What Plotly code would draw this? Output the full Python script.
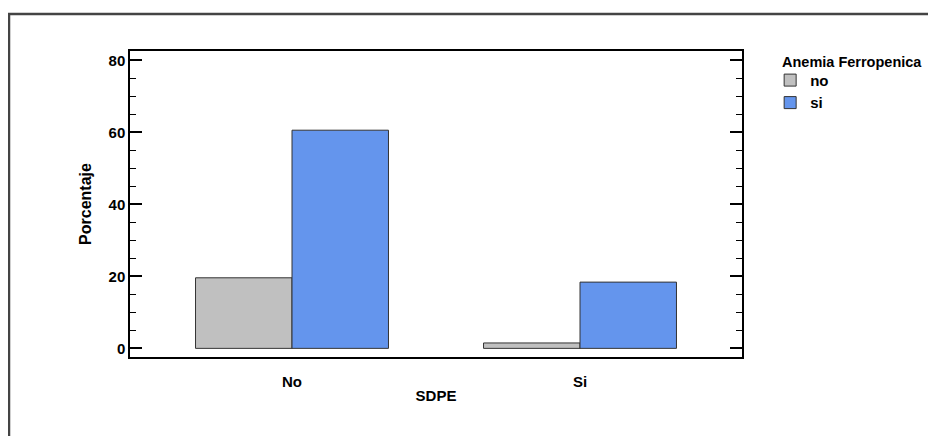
import plotly.graph_objects as go

categories = ["No", "Si"]
series_names = ["no", "si"]
values_no = [19.6, 1.5]
values_si = [60.6, 18.4]
colors = ["#C0C0C0", "#6495ED"]
legend_title = "Anemia Ferropenica"

FONT = "Liberation Sans, Arial, sans-serif"

fig = go.Figure()
for name, vals, col in zip(series_names, [values_no, values_si], colors):
    fig.add_trace(go.Bar(
        x=categories, y=vals, name=name,
        marker=dict(color=col, line=dict(color="#333333", width=1)),
    ))

# page has an 8px body margin; figure is sized to fit the window
fig.update_layout(
    width=928, height=428,
    margin=dict(l=122, r=194, t=43, b=79),
    paper_bgcolor="white", plot_bgcolor="white",
    barmode="group", bargap=0.33, bargroupgap=0,
    font=dict(family=FONT, size=15, color="black", weight="bold"),
    legend=dict(
        x=1.046, y=0.958, xanchor="left", yanchor="top",
        font=dict(family=FONT, size=15, weight="bold"),
        traceorder="normal",
    ),
    showlegend=True,
)

fig.add_annotation(
    text=legend_title, xref="paper", yref="paper",
    x=1.062, y=0.964, xanchor="left", yanchor="middle", showarrow=False,
    font=dict(family=FONT, size=14.5, weight="bold", color="black"),
)

fig.update_xaxes(
    range=[-0.5625, 1.5625],
    showline=True, linecolor="black", linewidth=1.5, mirror=True,
    ticks="", showgrid=False,
    tickfont=dict(family=FONT, size=15, weight="bold"),
    ticklabelstandoff=10,
    title=dict(text="SDPE", font=dict(family=FONT, size=15, weight="bold"), standoff=2),
)
fig.update_yaxes(
    range=[-2.4, 82.6],
    showline=True, linecolor="black", linewidth=1.5, mirror="allticks",
    ticks="inside", ticklen=12, tickwidth=1.5, tickcolor="black",
    tickvals=[0, 20, 40, 60, 80],
    minor=dict(tickvals=[5, 10, 15, 25, 30, 35, 45, 50, 55, 65, 70, 75],
               ticks="inside", ticklen=6, tickcolor="black", tickwidth=1),
    showgrid=False, zeroline=False,
    tickfont=dict(family=FONT, size=15, weight="bold"),
    title=dict(text="Porcentaje", font=dict(family=FONT, size=16, weight="bold"), standoff=13),
)

# outer frame (partially visible: left and top edges)
fig.add_shape(type="rect", xref="paper", yref="paper",
              x0=-0.1977, x1=2.0, y0=-1.0, y1=1.121,
              line=dict(color="#444444", width=2.5), layer="below")

fig.write_html("out.html")
